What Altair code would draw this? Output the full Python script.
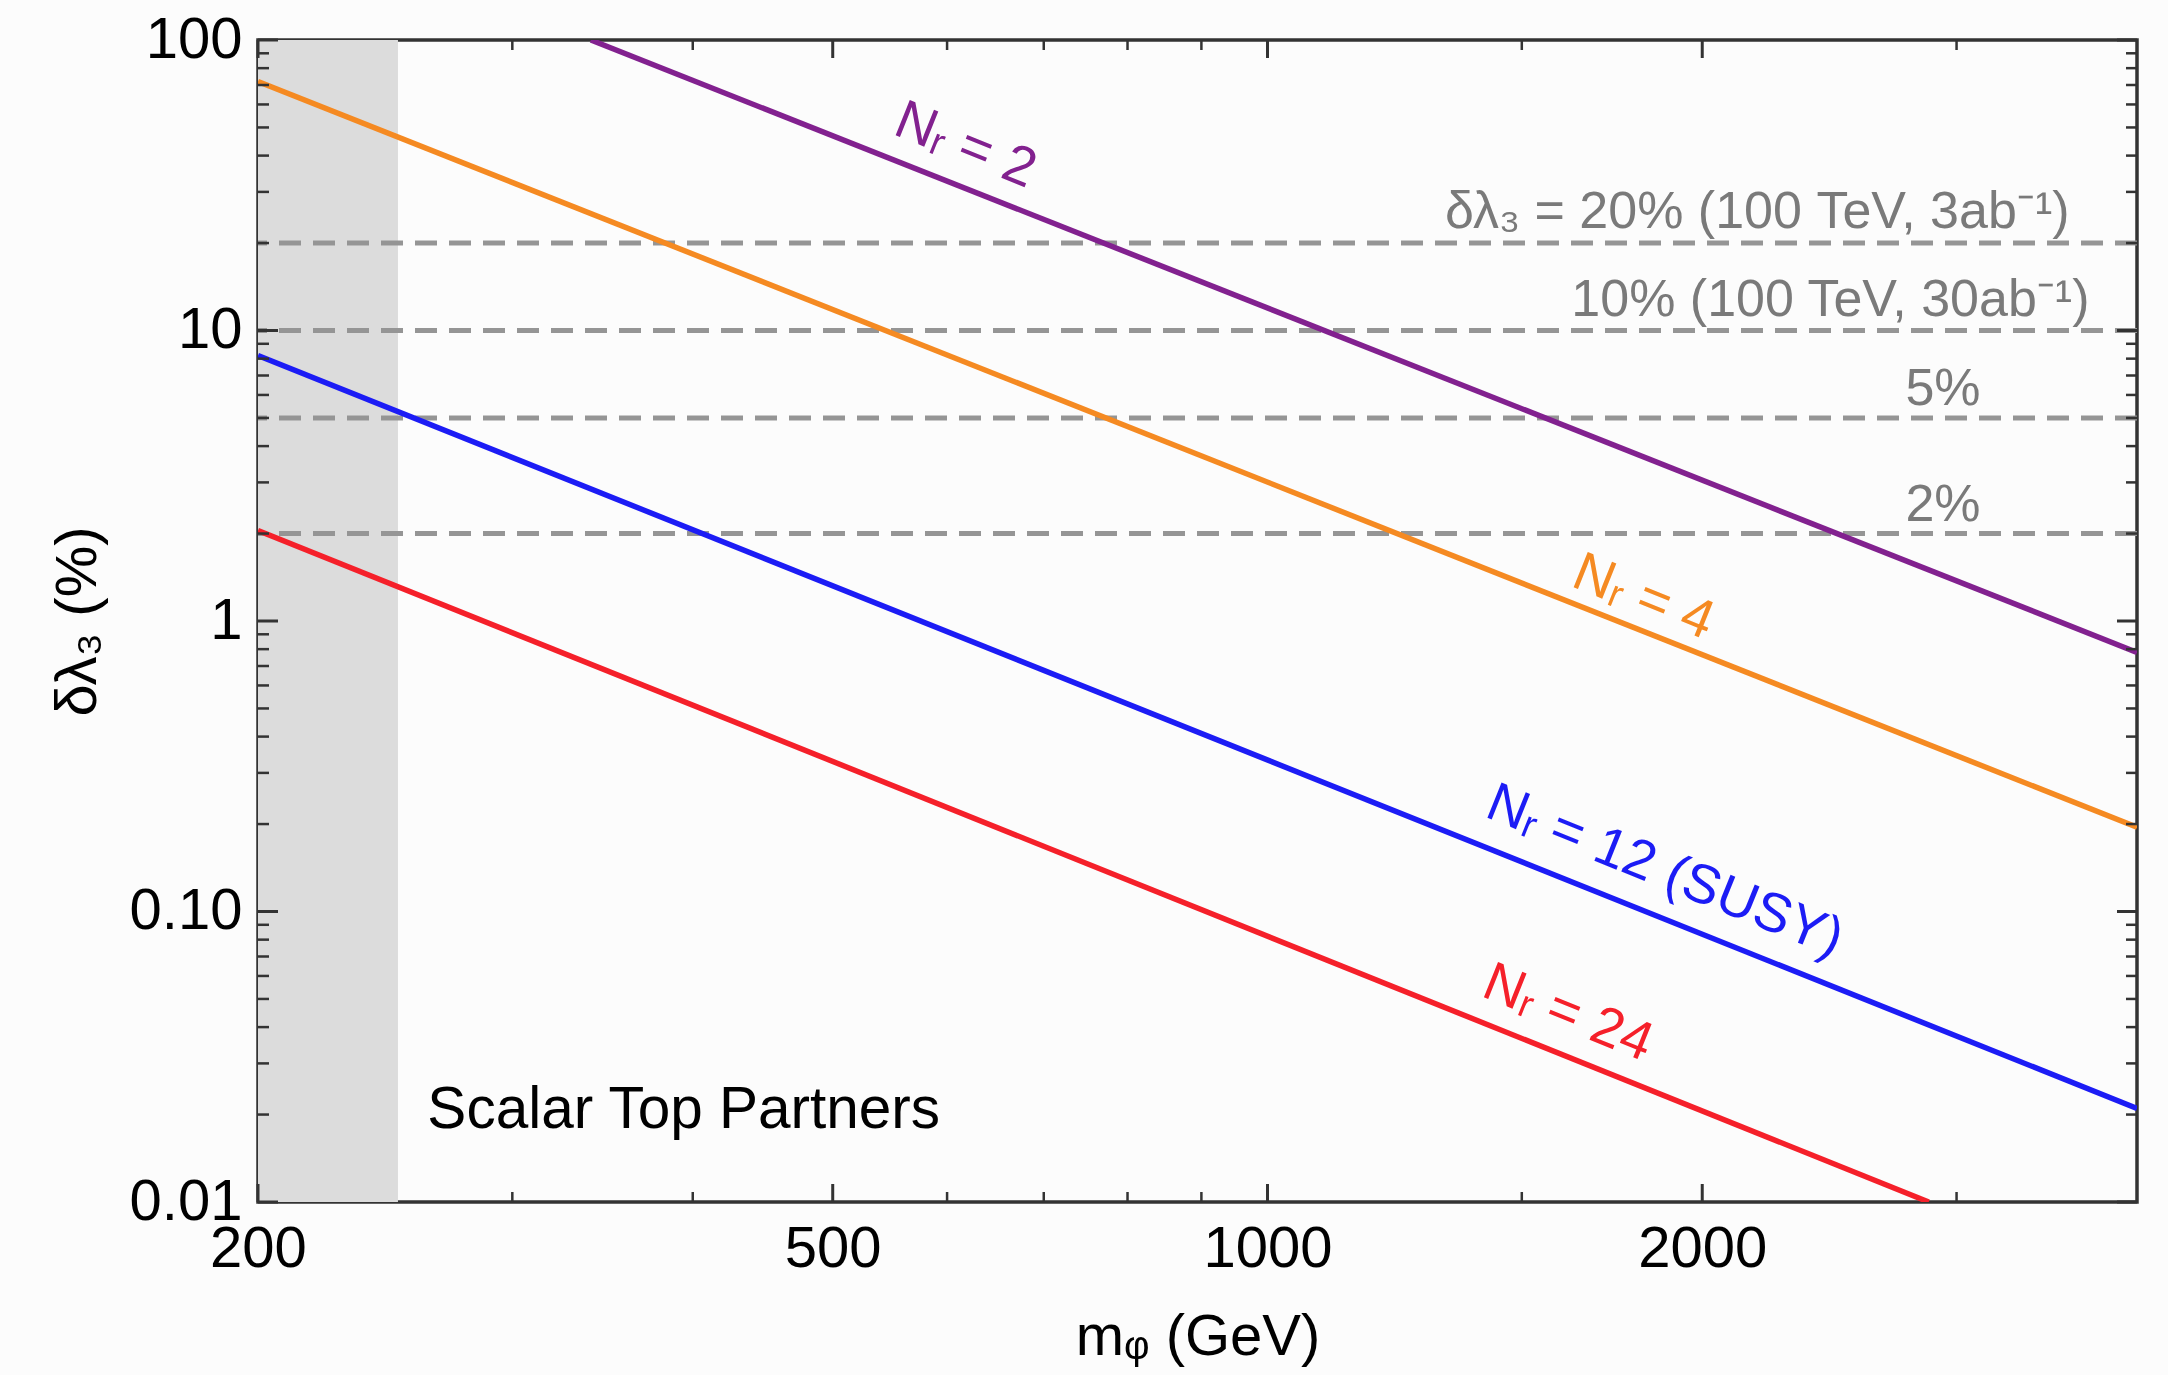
import altair as alt
import pandas as pd

# ---------------- data ----------------
x_domain = [200, 4000]
y_domain = [0.01, 100]

x_tick_values = [200, 500, 1000, 2000]
x_minor_values = [300, 400, 600, 700, 800, 900, 1500, 3000]
y_tick_values = [0.01, 0.1, 1, 10, 100]
y_tick_labels = ["0.01", "0.10", "1", "10", "100"]
y_minor_values = [0.02, 0.03, 0.04, 0.05, 0.06, 0.07, 0.08, 0.09,
                  0.2, 0.3, 0.4, 0.5, 0.6, 0.7, 0.8, 0.9,
                  2, 3, 4, 5, 6, 7, 8, 9,
                  20, 30, 40, 50, 60, 70, 80, 90]

series = ["Nr2", "Nr4", "Nr12", "Nr24"]
series_colors = ["#82218F", "#F58A22", "#1C1CF5", "#F5202A"]
m_start = [340, 200, 200, 200]
d_start = [100, 72, 8.2, 2.05]
m_end = [4000, 4000, 4000, 2870]
d_end = [0.78, 0.195, 0.021, 0.01]

label_text = ["N\u1d63 = 2", "N\u1d63 = 4", "N\u1d63 = 12 (SUSY)", "N\u1d63 = 24"]
label_m = [618, 1822, 1885, 1615]
label_d = [43.5, 1.21, 0.138, 0.0448]

dash_levels = [20, 10, 5, 2]
dash_text = ["\u03b4\u03bb\u2083 = 20% (100 TeV, 3ab\u207b\u00b9)",
             "10% (100 TeV, 30ab\u207b\u00b9)", "5%", "2%"]
dash_text_m = [3592, 3708, 2936, 2936]

band_m = [200]
band_m2 = [250]

panel_text = ["Scalar Top Partners"]
panel_m = [262]
panel_d = [0.0207]

# ---------------- layout / style ----------------
W, H = 1879, 1162
FONT = "Liberation Sans, Arial, Helvetica, sans-serif"
FRAME = "#333333"

xs = alt.Scale(type="log", domain=x_domain, nice=False)
ys = alt.Scale(type="log", domain=y_domain, nice=False)
cs = alt.Scale(domain=series, range=series_colors)

y_expr = "''"
for v, l in zip(y_tick_values, y_tick_labels):
    y_expr = f"abs(datum.value - {v}) < {v} * 0.01 ? '{l}' : ({y_expr})"

x_axis = alt.Axis(values=x_tick_values, format="d", ticks=False, domain=False, grid=False,
                  labelFont=FONT, labelFontSize=58, labelColor="black", labelPadding=18,
                  labelFlush=False, labelOverlap=False,
                  title="m\u1d69 (GeV)", titleFont=FONT, titleFontSize=58,
                  titleFontWeight="normal", titleColor="black", titlePadding=30)
y_axis = alt.Axis(values=y_tick_values, labelExpr=y_expr, ticks=False, domain=False, grid=False,
                  labelFont=FONT, labelFontSize=58, labelColor="black", labelPadding=16,
                  labelFlush=False, labelOverlap=False,
                  title="\u03b4\u03bb\u2083 (%)", titleFont=FONT, titleFontSize=58,
                  titleFontWeight="normal", titleColor="black", titlePadding=22)

# ---------------- tables ----------------
lines_rows = []
for s, m0, d0, m1, d1 in zip(series, m_start, d_start, m_end, d_end):
    lines_rows.append({"series": s, "m": m0, "d": d0})
    lines_rows.append({"series": s, "m": m1, "d": d1})
df_lines = pd.DataFrame(lines_rows)

df_labels = pd.DataFrame({"series": series, "text": label_text, "m": label_m, "d": label_d})
df_dash = pd.DataFrame({"d": dash_levels, "text": dash_text, "m": dash_text_m})
df_band = pd.DataFrame({"m": band_m, "m2": band_m2})
df_xmaj = pd.DataFrame({"m": x_tick_values})
df_xmin = pd.DataFrame({"m": x_minor_values})
df_ymaj = pd.DataFrame({"d": y_tick_values})
df_ymin = pd.DataFrame({"d": y_minor_values})
df_panel = pd.DataFrame({"text": panel_text, "m": panel_m, "d": panel_d})

# ---------------- layers ----------------
band = alt.Chart(df_band).mark_rect(color="#dcdcdc").encode(
    x=alt.X("m:Q", scale=xs, axis=x_axis),
    x2="m2:Q",
    y=alt.value(0), y2=alt.value(H),
)

dashes = alt.Chart(df_dash).mark_rule(color="#959595", strokeWidth=5, strokeDash=[22, 12]).encode(
    y=alt.Y("d:Q", scale=ys, axis=y_axis),
)

lines = alt.Chart(df_lines).mark_line(strokeWidth=5.5, clip=True).encode(
    x=alt.X("m:Q", scale=xs, axis=x_axis),
    y=alt.Y("d:Q", scale=ys, axis=y_axis),
    color=alt.Color("series:N", scale=cs, legend=None),
    detail="series:N",
)

tick_col = FRAME
xmaj_b = alt.Chart(df_xmaj).mark_rule(color=tick_col, strokeWidth=3).encode(
    x=alt.X("m:Q", scale=xs, axis=x_axis), y=alt.value(H), y2=alt.value(H - 18))
xmaj_t = alt.Chart(df_xmaj).mark_rule(color=tick_col, strokeWidth=3).encode(
    x=alt.X("m:Q", scale=xs, axis=x_axis), y=alt.value(0), y2=alt.value(18))
xmin_b = alt.Chart(df_xmin).mark_rule(color=tick_col, strokeWidth=2.5).encode(
    x=alt.X("m:Q", scale=xs, axis=x_axis), y=alt.value(H), y2=alt.value(H - 10))
xmin_t = alt.Chart(df_xmin).mark_rule(color=tick_col, strokeWidth=2.5).encode(
    x=alt.X("m:Q", scale=xs, axis=x_axis), y=alt.value(0), y2=alt.value(10))
ymaj_l = alt.Chart(df_ymaj).mark_rule(color=tick_col, strokeWidth=3).encode(
    y=alt.Y("d:Q", scale=ys, axis=y_axis), x=alt.value(0), x2=alt.value(20))
ymaj_r = alt.Chart(df_ymaj).mark_rule(color=tick_col, strokeWidth=3).encode(
    y=alt.Y("d:Q", scale=ys, axis=y_axis), x=alt.value(W), x2=alt.value(W - 20))
ymin_l = alt.Chart(df_ymin).mark_rule(color=tick_col, strokeWidth=2.5).encode(
    y=alt.Y("d:Q", scale=ys, axis=y_axis), x=alt.value(0), x2=alt.value(11))
ymin_r = alt.Chart(df_ymin).mark_rule(color=tick_col, strokeWidth=2.5).encode(
    y=alt.Y("d:Q", scale=ys, axis=y_axis), x=alt.value(W), x2=alt.value(W - 11))

dash_right = alt.Chart(df_dash.iloc[:2]).mark_text(
    font=FONT, fontSize=52, color="#7a7a7a", align="right", baseline="alphabetic", dy=-15
).encode(x=alt.X("m:Q", scale=xs, axis=x_axis), y=alt.Y("d:Q", scale=ys, axis=y_axis), text="text:N")

dash_center = alt.Chart(df_dash.iloc[2:]).mark_text(
    font=FONT, fontSize=52, color="#7a7a7a", align="center", baseline="alphabetic", dy=-13
).encode(x=alt.X("m:Q", scale=xs, axis=x_axis), y=alt.Y("d:Q", scale=ys, axis=y_axis), text="text:N")

labels = alt.Chart(df_labels).mark_text(
    font=FONT, fontSize=55, align="center", baseline="middle", angle=21.9
).encode(
    x=alt.X("m:Q", scale=xs, axis=x_axis),
    y=alt.Y("d:Q", scale=ys, axis=y_axis),
    text="text:N",
    color=alt.Color("series:N", scale=cs, legend=None),
)

panel = alt.Chart(df_panel).mark_text(
    font=FONT, fontSize=58.5, color="black", align="left", baseline="middle"
).encode(x=alt.X("m:Q", scale=xs, axis=x_axis), y=alt.Y("d:Q", scale=ys, axis=y_axis), text="text:N")

chart = alt.layer(
    band, dashes, lines,
    xmaj_b, xmaj_t, xmin_b, xmin_t, ymaj_l, ymaj_r, ymin_l, ymin_r,
    dash_right, dash_center, labels, panel,
).properties(
    width=W, height=H,
    autosize=alt.AutoSizeParams(type="none"),
    padding={"left": 258, "top": 40, "right": 31, "bottom": 173},
    background="#fcfcfc",
).configure_view(
    stroke=FRAME, strokeWidth=3.5,
)

chart.save("out.html", embed_options={"renderer": "svg", "actions": False})
